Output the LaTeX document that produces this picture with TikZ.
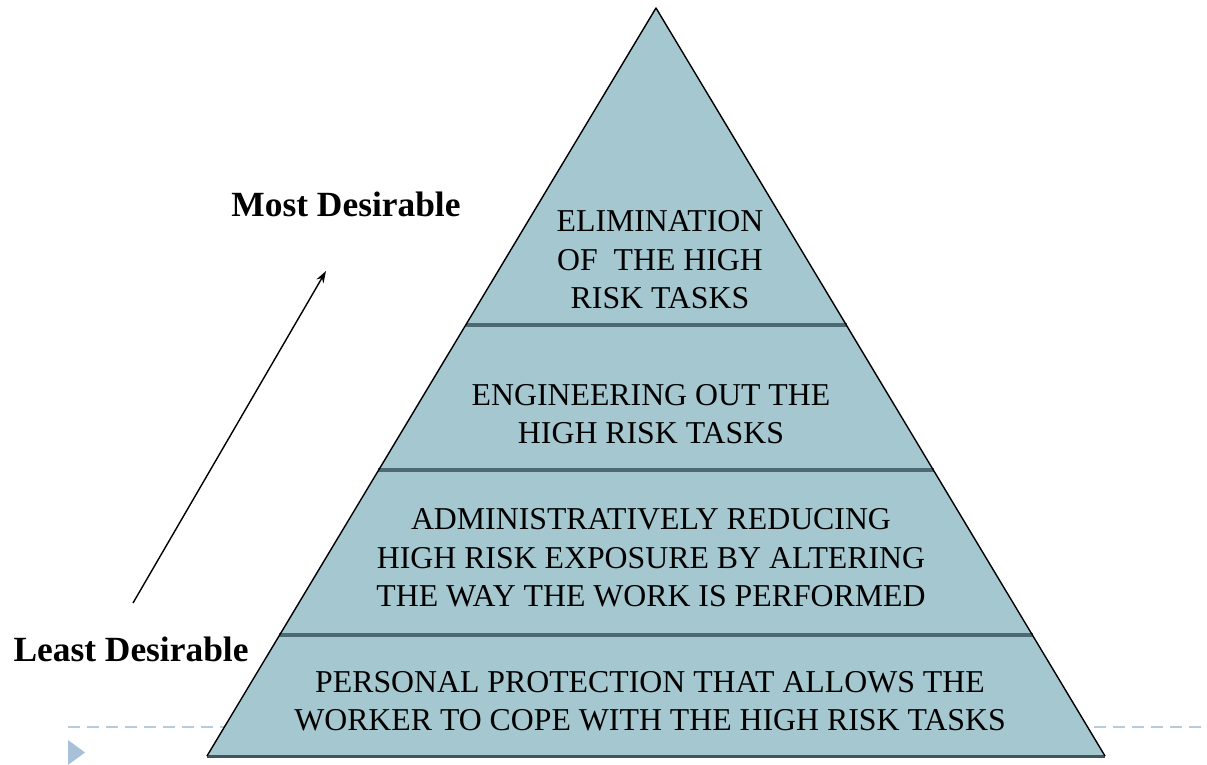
\documentclass[tikz,border=0pt]{standalone}
\usepackage{fontspec}
\setmainfont{Liberation Serif}
\usetikzlibrary{arrows.meta,calc}
\definecolor{pyrfill}{HTML}{A5C8D0}
\definecolor{bandline}{HTML}{4D6A72}
\definecolor{dashcol}{HTML}{B7CBDF}
\definecolor{markcol}{HTML}{A9C1D8}
\tikzset{
  bandtext/.style={font=\fontsize{31.8}{38.5}\selectfont, align=center, text=black, inner sep=0pt},
  sidelabel/.style={font=\fontsize{35.4}{40}\selectfont\bfseries, inner sep=0pt, anchor=base},
  divider/.style={draw=bandline, line width=3.5pt},
}
\begin{document}
\begin{tikzpicture}[x=1pt,y=-1pt]
\useasboundingbox (0,0) rectangle (1207,765);
% dashed guide line
\draw[dashcol, line width=2pt, dash pattern=on 12pt off 7pt] (68,727) -- (1207,727);
\fill[markcol] (68,740) -- (68,765) -- (85,752.5) -- cycle;
% pyramid
\coordinate (apex) at (656,8);
\coordinate (bl) at (207,756);
\coordinate (br) at (1105,756);
\fill[pyrfill] (apex) -- (bl) -- (br) -- cycle;
\draw[divider] (465.5,325) -- (846.5,325);
\draw[divider] (378.3,470) -- (933.7,470);
\draw[divider] (279.1,635) -- (1032.9,635);
\draw[bandline!80!black, line width=3pt] (bl) -- (br);
\draw[black, line width=1.4pt, line join=round] (bl) -- (apex) -- (br);
% texts
\node[bandtext] (t1) at (660,260) {ELIMINATION\\OF\ \ THE HIGH\\RISK TASKS};
\node[bandtext] (t2) at (651,414) {ENGINEERING OUT THE\\HIGH RISK TASKS};
\node[bandtext] (t3) at (651,558) {ADMINISTRATIVELY REDUCING\\HIGH RISK EXPOSURE BY ALTERING\\THE WAY THE WORK IS PERFORMED};
\node[bandtext] (t4) at (650,701) {PERSONAL PROTECTION THAT ALLOWS THE\\WORKER TO COPE WITH THE HIGH RISK TASKS};
\node[sidelabel] (most) at (346,216) {Most Desirable};
\node[sidelabel] (least) at (131,661) {Least Desirable};
% arrow
\coordinate (arrS) at (133,603);
\coordinate (arrE) at (326,271);
\draw[line width=1.4pt, -{Stealth[length=12pt,width=8pt]}] (arrS) -- (arrE);
\end{tikzpicture}
\end{document}
